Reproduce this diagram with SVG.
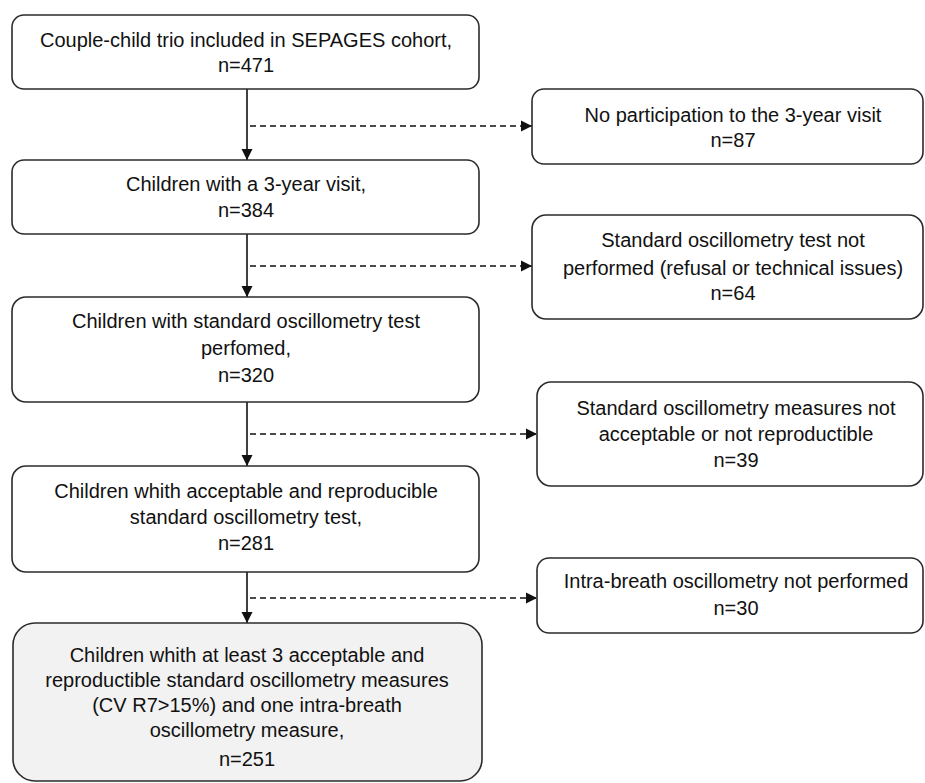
<svg xmlns="http://www.w3.org/2000/svg" width="925" height="783" viewBox="0 0 925 783">
<style>
.box{fill:#ffffff;stroke:#2b2b2b;stroke-width:1.6}
.final{fill:#f2f2f2;stroke:#2b2b2b;stroke-width:1.6}
.t{font-family:"Liberation Sans","DejaVu Sans",sans-serif;font-size:20px;fill:#111111;text-anchor:middle}
.solid{stroke:#111111;stroke-width:1.6;fill:none}
.dash{stroke:#111111;stroke-width:1.6;fill:none;stroke-dasharray:6 4}
</style>
<defs>
<marker id="ah" viewBox="0 0 10 10" refX="10" refY="5" markerWidth="7" markerHeight="7" orient="auto" markerUnits="strokeWidth">
<path d="M0,0 L10,5 L0,10 z" fill="#111111"/>
</marker>
</defs>
<rect width="925" height="783" fill="#ffffff"/>
<g id="connectors">
<line class="solid" x1="247" y1="89" x2="247" y2="160" marker-end="url(#ah)"/>
<line class="dash" x1="250" y1="126" x2="532" y2="126" marker-end="url(#ah)"/>
<line class="solid" x1="247" y1="234" x2="247" y2="297" marker-end="url(#ah)"/>
<line class="dash" x1="250" y1="266" x2="532" y2="266" marker-end="url(#ah)"/>
<line class="solid" x1="247" y1="402" x2="247" y2="466" marker-end="url(#ah)"/>
<line class="dash" x1="250" y1="434" x2="537" y2="434" marker-end="url(#ah)"/>
<line class="solid" x1="247" y1="572" x2="247" y2="623" marker-end="url(#ah)"/>
<line class="dash" x1="250" y1="598" x2="537" y2="598" marker-end="url(#ah)"/>
</g>
<g id="n1">
<rect class="box" x="12" y="15" width="467" height="74" rx="12"/>
<text class="t" x="246" y="47">Couple-child trio included in SEPAGES cohort,</text>
<text class="t" x="246" y="72">n=471</text>
</g>
<g id="n2">
<rect class="box" x="12" y="160" width="467" height="74" rx="12"/>
<text class="t" x="246" y="191">Children with a 3-year visit,</text>
<text class="t" x="246" y="217">n=384</text>
</g>
<g id="n3">
<rect class="box" x="12" y="297" width="467" height="105" rx="14"/>
<text class="t" x="246" y="328">Children with standard oscillometry test</text>
<text class="t" x="246" y="355">perfomed,</text>
<text class="t" x="246" y="382">n=320</text>
</g>
<g id="n4">
<rect class="box" x="12" y="466" width="467" height="106" rx="14"/>
<text class="t" x="246" y="498">Children whith acceptable and reproducible</text>
<text class="t" x="246" y="524">standard oscillometry test,</text>
<text class="t" x="246" y="550">n=281</text>
</g>
<g id="n5">
<rect class="final" x="13" y="623" width="469" height="158" rx="22"/>
<text class="t" x="247" y="662">Children whith at least 3 acceptable and</text>
<text class="t" x="247" y="687">reproductible  standard oscillometry measures</text>
<text class="t" x="247" y="712">(CV R7&gt;15%) and one intra-breath</text>
<text class="t" x="247" y="737">oscillometry measure,</text>
<text class="t" x="247" y="766">n=251</text>
</g>
<g id="r1">
<rect class="box" x="532" y="89" width="391" height="75" rx="12"/>
<text class="t" x="733" y="122">No participation to the 3-year visit</text>
<text class="t" x="733" y="147">n=87</text>
</g>
<g id="r2">
<rect class="box" x="532" y="215" width="391" height="104" rx="14"/>
<text class="t" x="733" y="247">Standard oscillometry test not</text>
<text class="t" x="733" y="275">performed  (refusal or technical issues)</text>
<text class="t" x="733" y="300">n=64</text>
</g>
<g id="r3">
<rect class="box" x="537" y="382" width="386" height="104" rx="14"/>
<text class="t" x="736" y="415">Standard oscillometry measures not</text>
<text class="t" x="736" y="441">acceptable or not reproductible</text>
<text class="t" x="736" y="467">n=39</text>
</g>
<g id="r4">
<rect class="box" x="537" y="558" width="386" height="75" rx="12"/>
<text class="t" x="736" y="588">Intra-breath oscillometry not performed</text>
<text class="t" x="736" y="615">n=30</text>
</g>
</svg>
